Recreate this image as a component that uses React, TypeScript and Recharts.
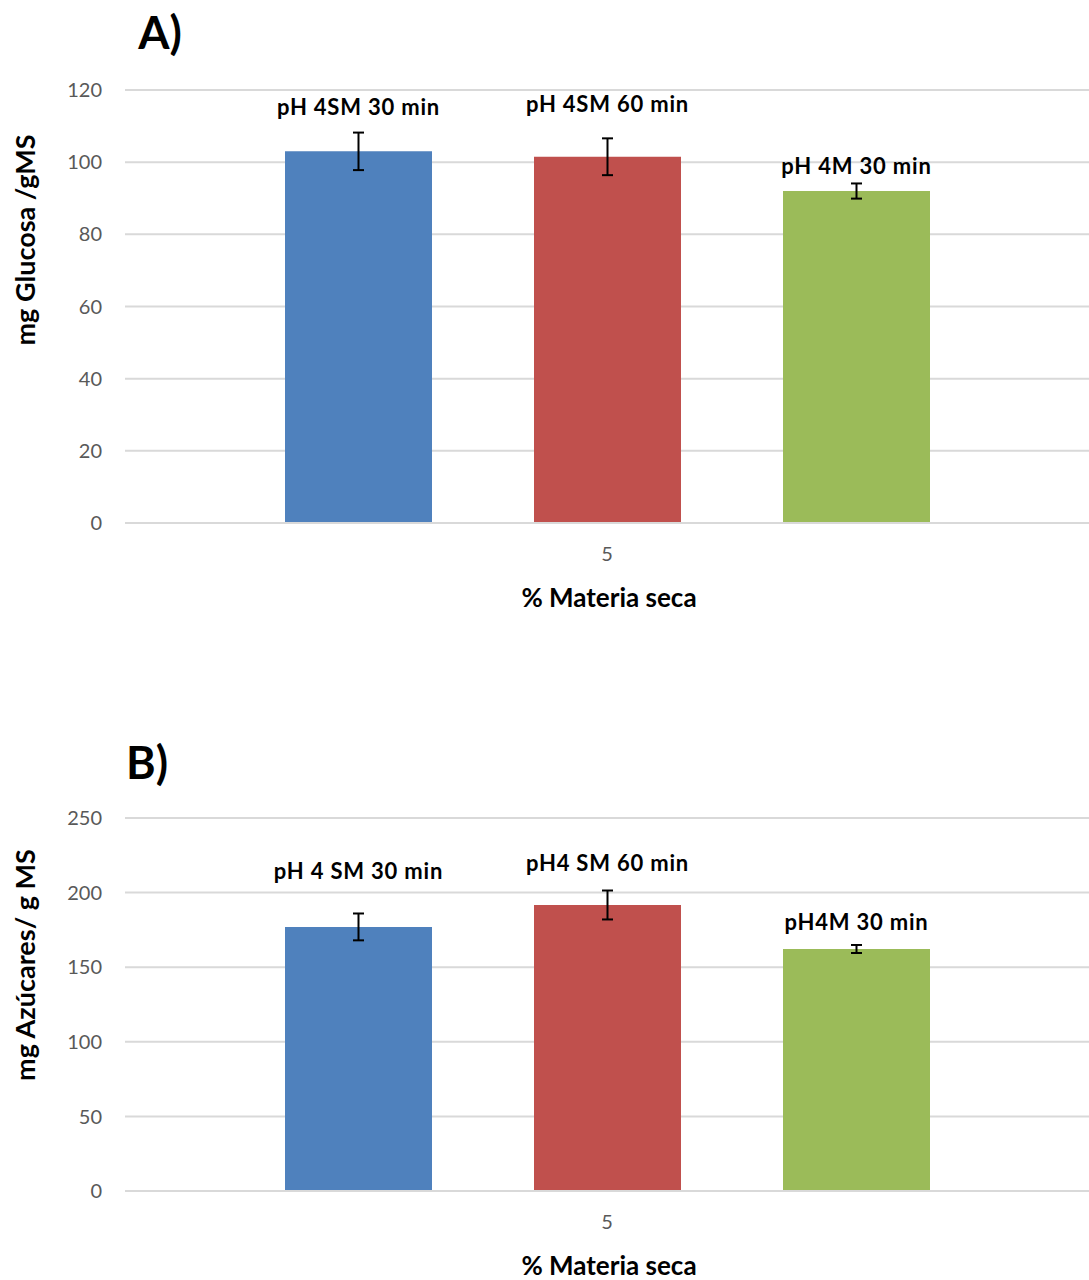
import React from 'react';
import { BarChart, Bar, XAxis, YAxis, CartesianGrid, ErrorBar } from 'recharts';

// categoría única del eje X (% materia seca)
const categories = ['5'];

// A) glucosa
const glucoseSeries = ['pH 4SM 30 min', 'pH 4SM 60 min', 'pH 4M 30 min'];
const glucoseMeans = [103, 101.5, 92];
const glucoseErrors = [5.2, 5.1, 2.1];
const glucoseTicks = [0, 20, 40, 60, 80, 100, 120];

// B) azúcares
const sugarSeries = ['pH 4 SM 30 min', 'pH4 SM 60 min', 'pH4M 30 min'];
const sugarMeans = [177, 191.7, 162.2];
const sugarErrors = [9, 9.7, 2.7];
const sugarTicks = [0, 50, 100, 150, 200, 250];

const COLORS = ['#4f81bd', '#c0504d', '#9bbb59'];
const FONT = 'Lato, "Open Sans", sans-serif';
const GRID = '#d9d9d9';

const buildRows = (means: number[], errors: number[]) =>
  categories.map((cat) => {
    const row: { [key: string]: string | number } = { cat };
    means.forEach((m, i) => {
      row[`s${i}`] = m;
      row[`e${i}`] = errors[i];
    });
    return row;
  });

const makeLabel = (text: string, lift: number) => (props: any) => {
  const { x, y, width } = props;
  return (
    <text
      x={x + width / 2}
      y={y - lift}
      textAnchor="middle"
      dominantBaseline="central"
      fontFamily={FONT}
      fontWeight={700}
      fontSize={22}
      letterSpacing={0.8}
      fill="#000"
    >
      {text}
    </text>
  );
};

interface PanelProps {
  top: number;
  height: number;
  axisHeight: number;
  letter: string;
  letterX: number;
  letterY: number;
  yTitle: string;
  yTitleY: number;
  xTitleY: number;
  series: string[];
  means: number[];
  errors: number[];
  ticks: number[];
  lifts: number[];
}

const Centered: React.FC<{ x: number; y: number; rotate?: number; style: React.CSSProperties; children: React.ReactNode }> = ({
  x,
  y,
  rotate = 0,
  style,
  children,
}) => (
  <div
    style={{
      position: 'absolute',
      left: x,
      top: y,
      transform: `translate(-50%, -50%) rotate(${rotate}deg)`,
      whiteSpace: 'nowrap',
      fontFamily: FONT,
      lineHeight: 1,
      ...style,
    }}
  >
    {children}
  </div>
);

const Panel: React.FC<PanelProps> = (p) => {
  const rows = buildRows(p.means, p.errors);
  const max = p.ticks[p.ticks.length - 1];
  return (
    <div style={{ position: 'absolute', left: 0, top: p.top, width: 1089, height: p.height }}>
      <BarChart
        width={1089}
        height={p.height}
        data={rows}
        margin={{ top: 90, right: 0, bottom: 0, left: 0 }}
        barSize={147}
        barGap={102}
      >
        <CartesianGrid vertical={false} stroke={GRID} strokeWidth={2} />
        <XAxis
          dataKey="cat"
          height={p.axisHeight}
          tickLine={false}
          tickSize={0}
          tickMargin={24}
          axisLine={{ stroke: GRID, strokeWidth: 2 }}
          tick={{ fill: '#595959', fontSize: 20, fontFamily: FONT }}
        />
        <YAxis
          width={125}
          domain={[0, max]}
          ticks={p.ticks}
          interval={0}
          tickLine={false}
          axisLine={false}
          tickSize={0}
          tickMargin={23}
          tick={{ fill: '#595959', fontSize: 20, fontFamily: FONT }}
        />
        {p.series.map((name, i) => (
          <Bar
            key={name}
            dataKey={`s${i}`}
            name={name}
            fill={COLORS[i]}
            isAnimationActive={false}
            label={makeLabel(name, p.lifts[i])}
          >
            <ErrorBar dataKey={`e${i}`} direction="y" width={5.5} stroke="#000" strokeWidth={2} />
          </Bar>
        ))}
      </BarChart>
      <Centered x={p.letterX} y={p.letterY} style={{ fontSize: 45, fontWeight: 700 }}>
        {p.letter}
      </Centered>
      <Centered x={24} y={p.yTitleY} rotate={-90} style={{ fontSize: 27, fontWeight: 700 }}>
        {p.yTitle}
      </Centered>
      <Centered x={609} y={p.xTitleY} style={{ fontSize: 26, fontWeight: 700 }}>
        % Materia seca
      </Centered>
    </div>
  );
};

export default function App() {
  return (
    <div style={{ position: 'absolute', left: 0, top: 0, width: 1089, height: 1280, background: '#fff' }}>
      <Panel
        top={0}
        height={630}
        axisHeight={107}
        letter="A)"
        letterX={160}
        letterY={32}
        yTitle="mg Glucosa /gMS"
        yTitleY={240}
        xTitleY={597}
        series={glucoseSeries}
        means={glucoseMeans}
        errors={glucoseErrors}
        ticks={glucoseTicks}
        lifts={[45, 53, 26]}
      />
      <Panel
        top={728}
        height={552}
        axisHeight={89}
        letter="B)"
        letterX={147}
        letterY={762 - 728}
        yTitle="mg Azúcares/ g MS"
        yTitleY={965 - 728}
        xTitleY={1265 - 728}
        series={sugarSeries}
        means={sugarMeans}
        errors={sugarErrors}
        ticks={sugarTicks}
        lifts={[56, 42, 27]}
      />
    </div>
  );
}
